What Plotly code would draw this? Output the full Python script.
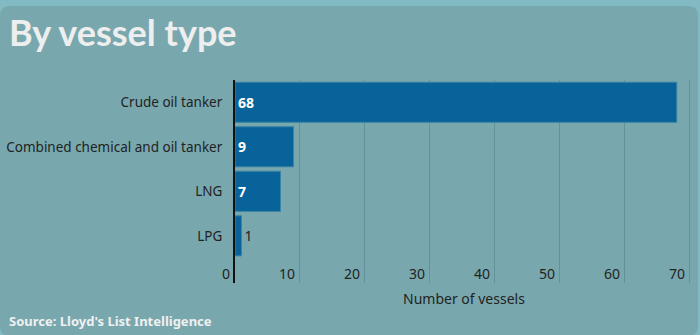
import plotly.graph_objects as go

categories = ["Crude oil tanker", "Combined chemical and oil tanker", "LNG", "LPG"]
values = [68, 9, 7, 1]
x_ticks = [0, 10, 20, 30, 40, 50, 60, 70]

W, H = 700, 335
L, R, T, B = 235, 7, 80, 52
pw, ph = W - L - R, H - T - B

def px(x):
    return (x - L) / pw

def py(y):
    return (H - B - y) / ph

FONT = "Noto Sans"
text = [f"<b>{v}</b>" if v > 3 else str(v) for v in values]
positions = ["inside" if v > 3 else "outside" for v in values]
tcolors = ["#ffffff" if v > 3 else "#222222" for v in values]

fig = go.Figure(go.Bar(
    y=categories, x=values, orientation="h",
    marker=dict(color="#07639a", line=dict(color="#3a82a6", width=1)),
    text=text, textposition=positions, insidetextanchor="start",
    textfont=dict(color=tcolors, size=14, family=FONT),
    constraintext="none", cliponaxis=False,
))

# rounded panel
r = 10
x0, x1, y0, y1 = 0, 698, 6, 336
path = (
    f"M {px(x0+r)} {py(y0)} L {px(x1-r)} {py(y0)} Q {px(x1)} {py(y0)} {px(x1)} {py(y0+r)} "
    f"L {px(x1)} {py(y1-r)} Q {px(x1)} {py(y1)} {px(x1-r)} {py(y1)} "
    f"L {px(x0+r)} {py(y1)} Q {px(x0)} {py(y1)} {px(x0)} {py(y1-r)} "
    f"L {px(x0)} {py(y0+r)} Q {px(x0)} {py(y0)} {px(x0+r)} {py(y0)} Z"
)

annotations = [
    dict(text="<b>By vessel type</b>", x=px(7), y=py(32), xref="paper", yref="paper",
         xanchor="left", yanchor="middle", showarrow=False,
         font=dict(family="Lato", size=36, color="#eeeeee")),
    dict(text="<b>Source: Lloyd's List Intelligence</b>", x=px(7), y=py(321), xref="paper", yref="paper",
         xanchor="left", yanchor="middle", showarrow=False,
         font=dict(family=FONT, size=13, color="#f0f0f0")),
    dict(text="Number of vessels", x=0.5, y=py(298), xref="paper", yref="paper",
         xanchor="center", yanchor="middle", showarrow=False,
         font=dict(family=FONT, size=14, color="#222222")),
]
# x tick labels drawn left of each gridline, inside the plot's lower strip
for t in x_ticks:
    annotations.append(dict(text=str(t), x=t, y=py(273), xref="x", yref="paper",
                            xanchor="right", yanchor="middle", showarrow=False, xshift=-3,
                            font=dict(family=FONT, size=14, color="#222222")))

fig.update_layout(
    width=W, height=H,
    margin=dict(l=L, r=R, t=T, b=B, pad=0),
    paper_bgcolor="#82bac4",
    plot_bgcolor="rgba(0,0,0,0)",
    bargap=0.1,
    showlegend=False,
    font=dict(family=FONT, color="#222222", size=14),
    shapes=[dict(type="path", path=path, xref="paper", yref="paper",
                 fillcolor="#78a8ae", line=dict(width=0), layer="below")],
    annotations=annotations,
)

fig.update_xaxes(
    range=[0, 70.5], tickvals=x_ticks, showticklabels=False,
    showgrid=True, gridcolor="#62939a", gridwidth=1, zeroline=False,
    ticks="", showline=False, fixedrange=True,
)
fig.update_yaxes(
    autorange=False, range=[4.06, -0.5],
    showline=True, linecolor="#111111", linewidth=2,
    ticks="", ticklabelstandoff=8, showgrid=False,
    tickfont=dict(size=13.5, color="#222222"), fixedrange=True,
)

fig.write_html("out.html")
